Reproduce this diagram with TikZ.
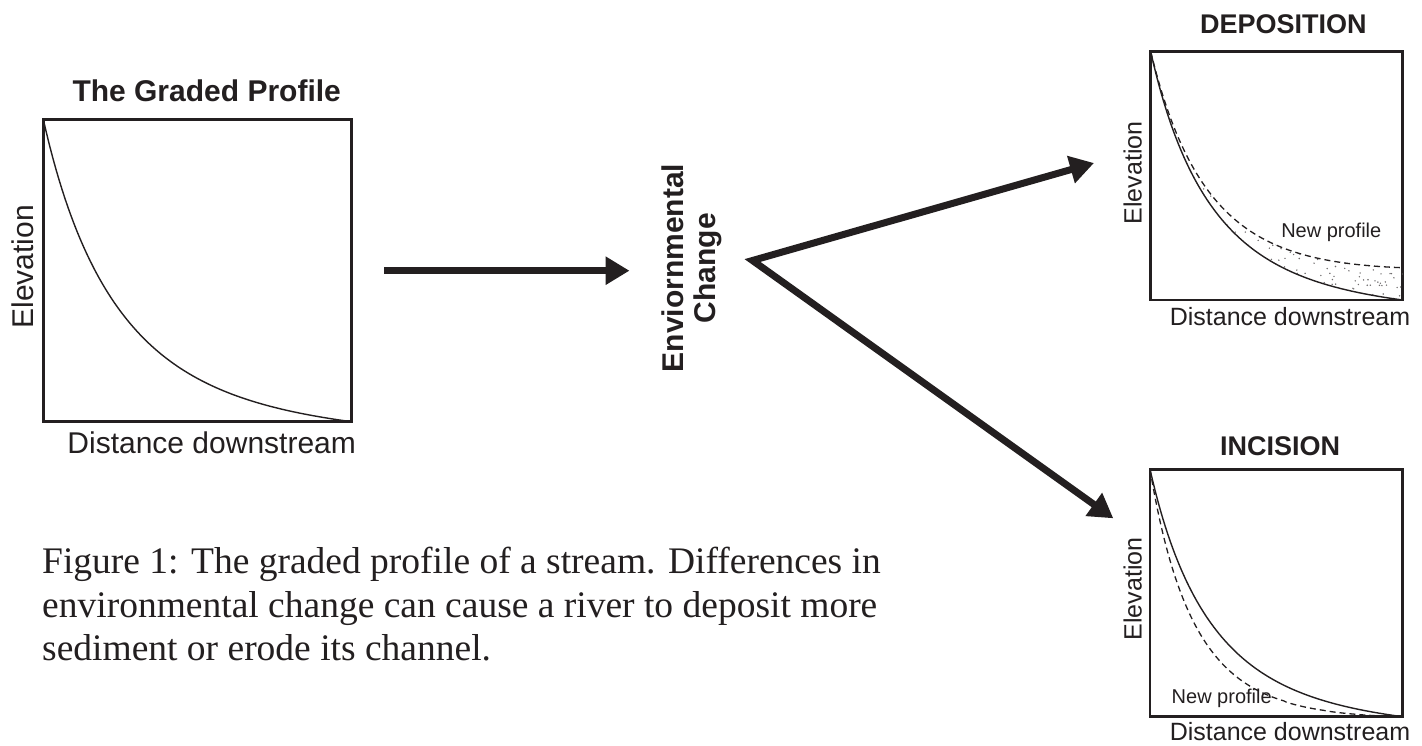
\documentclass[tikz,border=0pt]{standalone}
\usepackage{fontspec}
\setmainfont{Liberation Serif}
\newfontfamily\arial{Liberation Sans}
\usetikzlibrary{arrows.meta}
\definecolor{ink}{HTML}{231F20}
\pgfmathdeclarefunction{gp}{1}{\pgfmathparse{0.5*(1/(#1+0.25)-0.8)/3.2+0.5*(exp(-4*#1)-0.0183156)/0.9816844}}
\begin{document}
\begin{tikzpicture}[x=1pt,y=-1pt,
  frame/.style={draw=ink, line width=2.6pt, inner sep=0pt, outer sep=0pt, anchor=north west},
  prof/.style={draw=ink, line width=1.4pt},
  newprof/.style={draw=ink, line width=1.3pt, dash pattern=on 6pt off 4pt},
  tipb/.tip={Triangle[length=24pt,width=27pt]},
  bigarrow/.style={draw=ink, line width=7.5pt, -tipb},
  lbl/.style={text=ink, inner sep=0pt, anchor=base},
  bigtxt/.style={lbl, font=\arial\fontsize{30}{34}\selectfont},
  bigbold/.style={lbl, font=\arial\bfseries\fontsize{30}{34}\selectfont},
  smtitle/.style={lbl, font=\arial\bfseries\fontsize{27}{31}\selectfont},
  smaxis/.style={lbl, font=\arial\fontsize{25}{29}\selectfont},
  smnote/.style={lbl, font=\arial\fontsize{20}{24}\selectfont},
  stip/.style={fill=ink!65}]
\useasboundingbox (0,0) rectangle (1422,745);

% ---------- left panel: graded profile ----------
\node[frame, minimum width=308.4pt, minimum height=302.4pt] (gbox) at (43.3,119.3) {};
\begin{scope}[shift={(gbox.south west)}, x=308.4pt, y=302.4pt]
  \draw[prof] plot[domain=0:1, samples=100] (\x,{gp(\x)});
\end{scope}
\node[bigbold] (gtitle) at (206.7,101) {The Graded Profile};
\node[bigtxt, rotate=90] (gelev) at (33.3,266.7) {Elevation};
\node[bigtxt] (gdist) at (211.7,453.3) {Distance downstream};

% ---------- centre ----------
\coordinate (hs) at (384,270.7);
\coordinate (ht) at (629.5,270.7);
\draw[bigarrow] (hs) -- (ht);
\node[bigbold, rotate=90] (envA) at (683,268) {Enviornmental};
\node[bigbold, rotate=90] (envB) at (715,268) {Change};
\coordinate (vx) at (752.5,260.5);
\coordinate (ut) at (1094,163);
\coordinate (lt) at (1113.3,518.3);
\draw[draw=ink, line width=7pt, tipb-tipb] (ut) -- (vx) -- (lt);

% ---------- deposition ----------
\node[frame, minimum width=252pt, minimum height=248.3pt] (dbox) at (1150.7,51.7) {};
\begin{scope}[shift={(dbox.south west)}, x=252pt, y=248.3pt]
  \begin{scope}
    \clip plot[domain=0:1, samples=80] (\x,{gp(\x)+0.13*(\x+0.00001)^0.75})
      -- plot[domain=1:0, samples=80] (\x,{gp(\x)}) -- cycle;
    \pgfmathsetseed{12}
    \foreach \i in {1,...,300}{\fill[stip] ({0.2+0.8*rnd},{0.45*rnd}) circle[radius=0.8pt];}
  \end{scope}
  \draw[prof] plot[domain=0:1, samples=100] (\x,{gp(\x)});
  \draw[newprof] plot[domain=0:1, samples=100] (\x,{gp(\x)+0.13*(\x+0.00001)^0.75});
\end{scope}
\node[smtitle] (dtitle) at (1283.3,33.3) {DEPOSITION};
\node[smaxis, rotate=90] (delev) at (1141.7,173) {Elevation};
\node[smaxis] (ddist) at (1290,325) {Distance downstream};
\node[smnote] (dnew) at (1331.3,237) {New profile};

% ---------- incision ----------
\node[frame, minimum width=252.7pt, minimum height=247.4pt] (ibox) at (1150,469.3) {};
\begin{scope}[shift={(ibox.south west)}, x=252.7pt, y=247.4pt]
  \draw[prof] plot[domain=0:1, samples=100] (\x,{gp(\x)});
  \draw[newprof] plot[domain=0:0.99, samples=100] (\x,{gp(\x)^1.35}) -- (1,0);
\end{scope}
\node[smtitle] (ititle) at (1280,455) {INCISION};
\node[smaxis, rotate=90] (ielev) at (1141.7,589) {Elevation};
\node[smaxis] (idist) at (1290,740) {Distance downstream};
\node[smnote] (inew) at (1221.7,703.3) {New profile};

% ---------- caption ----------
\node[lbl, anchor=base west, font=\fontsize{37.5}{43.4}\selectfont] (cap) at (42,573.7)
  {\vtop{\baselineskip=43.4pt
    \hbox{Figure 1: The graded profile of a stream. Differences in}
    \hbox{environmental change can cause a river to deposit more}
    \hbox{sediment or erode its channel.}}};
\end{tikzpicture}
\end{document}
